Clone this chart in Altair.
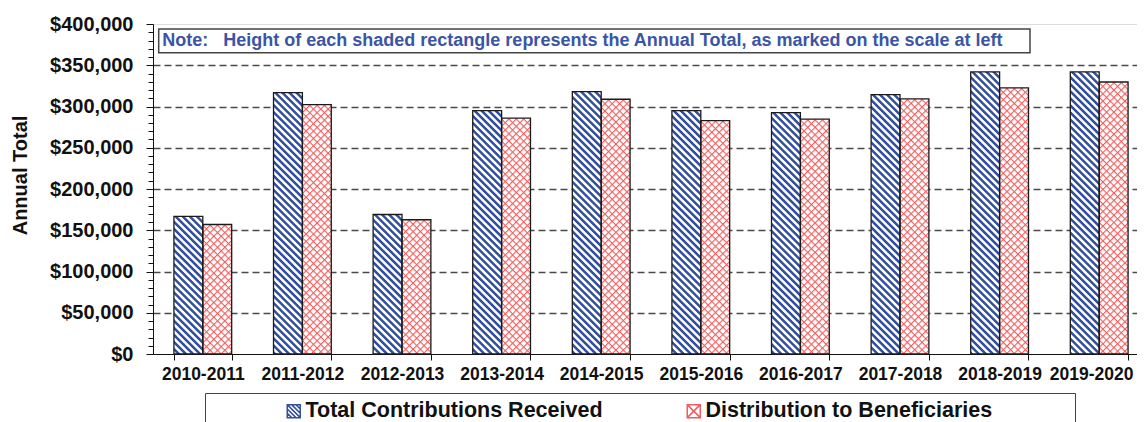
import altair as alt
import pandas as pd
from urllib.parse import quote

# ---------------- data ----------------
years = ["2010-2011", "2011-2012", "2012-2013", "2013-2014", "2014-2015",
         "2015-2016", "2016-2017", "2017-2018", "2018-2019", "2019-2020"]
contributions = [166700, 316800, 169100, 295000, 318000,
                 295000, 292600, 314400, 341900, 342000]
distributions = [157000, 302300, 162700, 285800, 308800,
                 283000, 284600, 309200, 322500, 329700]
series_names = ["Total Contributions Received", "Distribution to Beneficiaries"]
y_tick_values = list(range(0, 400001, 10000))
note_lines = ["Note:\u00a0\u00a0\u00a0Height of each shaded rectangle represents the Annual Total, as marked on the scale at left"]

rows = []
for yr, c, d in zip(years, contributions, distributions):
    rows.append({"year": yr, "series": series_names[0], "value": c})
    rows.append({"year": yr, "series": series_names[1], "value": d})
df = pd.DataFrame(rows)
note_df = pd.DataFrame({"note": note_lines})

# ---------------- styles ----------------
FONT = "Liberation Sans"
BLUE = "#33509f"
RED = "#f25c5c"
INK = "#111111"

blue_svg = ("<svg xmlns='http://www.w3.org/2000/svg'><defs>"
            "<pattern id='p' width='5' height='5' patternUnits='userSpaceOnUse' patternTransform='rotate(-45)'>"
            "<rect width='5' height='5' fill='#ffffff'/><rect width='2.5' height='5' fill='" + BLUE + "'/>"
            "</pattern></defs><rect width='100%' height='100%' fill='url(#p)'/></svg>")
red_svg = ("<svg xmlns='http://www.w3.org/2000/svg'><defs>"
           "<pattern id='p' width='5.2' height='5.2' patternUnits='userSpaceOnUse' patternTransform='rotate(45)'>"
           "<rect width='5.2' height='5.2' fill='#ffffff'/><rect width='5.2' height='1.1' fill='" + RED + "'/>"
           "<rect width='1.1' height='5.2' fill='" + RED + "'/>"
           "</pattern></defs><rect width='100%' height='100%' fill='url(#p)'/></svg>")


def data_uri(svg):
    return "data:image/svg+xml;charset=utf-8," + quote(svg)


# legend symbol shapes (unit square -1..1)
stripe_shape = ("M-1,-1L1,-1L1,1L-1,1Z M-1,-1L1,1 M-1,-0.33L0.33,1 M-1,0.33L-0.33,1 "
                "M-0.33,-1L1,0.33 M0.33,-1L1,-0.33")
cross_shape = "M-1,-1L1,-1L1,1L-1,1Z M-1,-1L1,1 M1,-1L-1,1"

x_enc = alt.X(
    "year:N", sort=years, title=None,
    scale=alt.Scale(paddingInner=0.42, paddingOuter=0.21),
    axis=alt.Axis(labelFont=FONT, labelFontSize=17.5, labelFontWeight="bold", labelColor=INK,
                  labelAngle=0, labelPadding=5, tickBand="extent", tickSize=6,
                  labelOffset={"condition": {"test": "datum.value === '" + years[-1] + "'", "value": -8},
                               "value": 0},
                  tickColor=INK, domainColor=INK, domainWidth=1, grid=False),
)
xo_enc = alt.XOffset("series:N", sort=series_names,
                     scale=alt.Scale(domain=series_names, paddingInner=0, paddingOuter=0))
y_enc = alt.Y(
    "value:Q", scale=alt.Scale(domain=[0, 400000], nice=False),
    axis=alt.Axis(values=y_tick_values,
                  labelExpr="datum.value % 50000 === 0 ? format(datum.value, '$,.0f') : ''",
                  labelOverlap=False,
                  title="Annual Total", titleFont=FONT, titleFontSize=20, titleFontWeight="bold",
                  titleColor=INK, titleAngle=270, titleX=-133, titleY=151,
                  titleAlign="center", titleBaseline="middle",
                  labelFont=FONT, labelFontSize=20, labelFontWeight="bold", labelColor=INK,
                  labelPadding=13,
                  tickSize={"condition": {"test": "datum.value % 50000 === 0", "value": 7}, "value": 5},
                  tickColor=INK, domainColor=INK,
                  grid=True, gridColor="#4a4a4a", gridDash=[7, 4], gridWidth=1.5,
                  gridOpacity={"condition": {"test": "datum.value % 50000 === 0 && datum.value > 0 && datum.value < 400000",
                                             "value": 1}, "value": 0}),
)

base = alt.Chart(df)

img_blue = base.transform_filter(alt.datum.series == series_names[0]).mark_image(aspect=False).encode(
    x=x_enc, xOffset=xo_enc, y=y_enc, url=alt.value(data_uri(blue_svg)))
img_red = base.transform_filter(alt.datum.series == series_names[1]).mark_image(aspect=False).encode(
    x=x_enc, xOffset=xo_enc, y=y_enc, url=alt.value(data_uri(red_svg)))

borders = base.mark_bar(fillOpacity=0, stroke="#1a1a1a", strokeWidth=1.3).encode(
    x=x_enc, xOffset=xo_enc, y=y_enc)

legend = alt.Legend(
    title="\u00a0", titleOrient="right", titlePadding=76, titleFontSize=21,
    orient="none", legendX=52, legendY=369, direction="horizontal",
    strokeColor="#444444", padding=7, symbolOffset=71, columnPadding=9,
    symbolSize=169, symbolStrokeWidth=1.5, symbolOpacity=1, labelLimit=0,
    labelFont=FONT, labelFontSize=21.5, labelFontWeight="bold", labelColor=INK, labelOffset=1,
)
legend_layer = base.mark_point(filled=False, opacity=0).encode(
    x=x_enc, xOffset=xo_enc, y=y_enc,
    color=alt.Color("series:N", sort=series_names,
                    scale=alt.Scale(domain=series_names, range=[BLUE, RED]), legend=legend),
    shape=alt.Shape("series:N", sort=series_names,
                    scale=alt.Scale(domain=series_names, range=[stripe_shape, cross_shape]), legend=legend),
)

note_box = alt.Chart(note_df).mark_rect(fill="#ffffff", stroke="#444444", strokeWidth=1.5).encode(
    x=alt.value(5.7), x2=alt.value(877), y=alt.value(5), y2=alt.value(28.7))
note_text = alt.Chart(note_df).mark_text(
    align="left", baseline="middle", font=FONT, fontSize=18, fontWeight="bold", color="#3b55a5"
).encode(x=alt.value(9.3), y=alt.value(17.2), text="note:N")

chart = alt.layer(img_blue, img_red, borders, legend_layer, note_box, note_text).properties(
    width=996, height=330,
    autosize=alt.AutoSizeParams(type="none"),
    padding={"left": 145, "top": 16, "right": -12, "bottom": 68},
).configure_view(stroke="#111111", strokeWidth=1.3).configure(background="#ffffff")

chart.save("out.html", embed_options={"renderer": "svg", "actions": False})
